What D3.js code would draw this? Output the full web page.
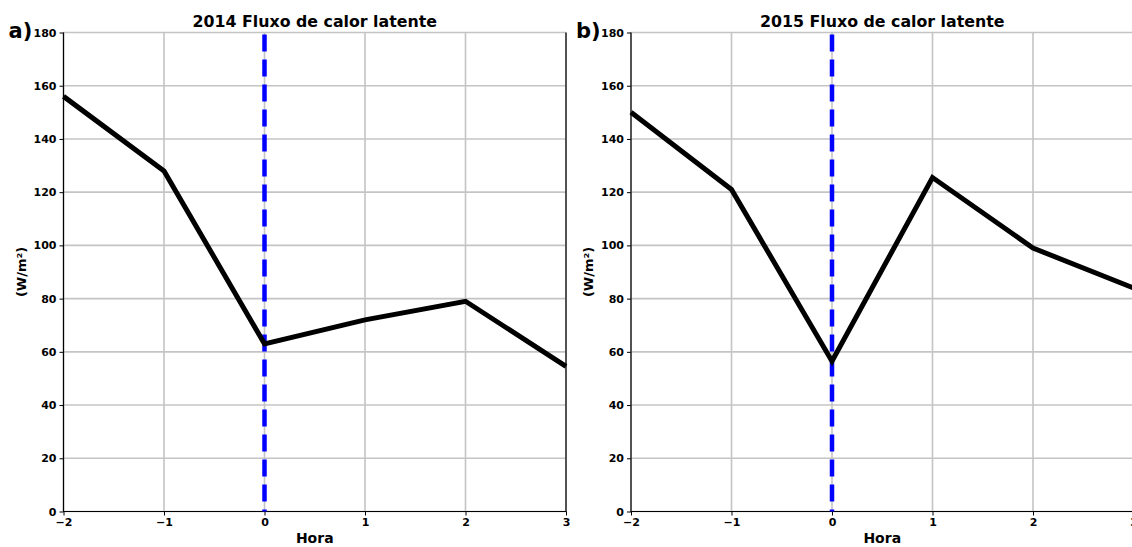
<!DOCTYPE html>
<html>
<head>
<meta charset="utf-8">
<script src="https://cdn.jsdelivr.net/npm/d3@7"></script>
<style>
  body { margin: 0; background: #fff; }
  text { font-family: "DejaVu Sans", sans-serif; font-weight: bold; }
</style>
</head>
<body>
<div id="chart"></div>
<script>
// Data
const hours = [-2, -1, 0, 1, 2, 3];
const flux2014 = [156, 128, 63, 72, 79, 54.5];
const flux2015 = [150, 121, 56.5, 125.5, 99, 84];
const yTicks = [0, 20, 40, 60, 80, 100, 120, 140, 160, 180];
const panels = [
  { tag: "a)", title: "2014 Fluxo de calor latente", values: flux2014, left: 63.5 },
  { tag: "b)", title: "2015 Fluxo de calor latente", values: flux2015, left: 631 }
];

const width = 1132, height = 547;
const plotW = 502.5, plotTop = 32.5, plotBottom = 511.5;

const svg = d3.select("#chart")
  .append("svg")
  .attr("width", width)
  .attr("height", height);

panels.forEach(p => {
  const x = d3.scaleLinear().domain([-2, 3]).range([p.left, p.left + plotW]);
  const y = d3.scaleLinear().domain([0, 180]).range([plotBottom, plotTop]);
  const g = svg.append("g");

  // grid
  g.selectAll(".hgrid")
    .data(yTicks)
    .enter()
    .append("line")
    .attr("x1", x(-2)).attr("x2", x(3))
    .attr("y1", d => y(d)).attr("y2", d => y(d))
    .attr("stroke", "#c4c4c4")
    .attr("stroke-width", 1.6);
  g.selectAll(".vgrid")
    .data(hours)
    .enter()
    .append("line")
    .attr("x1", d => x(d)).attr("x2", d => x(d))
    .attr("y1", plotTop).attr("y2", plotBottom)
    .attr("stroke", "#c4c4c4")
    .attr("stroke-width", 1.6);

  // frame (left, bottom, right)
  g.append("path")
    .attr("d", `M${x(-2)},${plotTop}V${plotBottom}H${x(3)}V${plotTop}`)
    .attr("fill", "none")
    .attr("stroke", "#000")
    .attr("stroke-width", 1.2);

  // axes
  const yAxis = g.append("g")
    .attr("transform", `translate(${x(-2)},0)`)
    .call(d3.axisLeft(y).tickValues(yTicks).tickSize(4).tickPadding(3));
  const xAxis = g.append("g")
    .attr("transform", `translate(0,${plotBottom})`)
    .call(d3.axisBottom(x).tickValues(hours).tickSize(4).tickPadding(3)
      .tickFormat(d => d < 0 ? "\u2212" + Math.abs(d) : d));
  [yAxis, xAxis].forEach(a => {
    a.select(".domain").remove();
    a.selectAll("line").attr("stroke", "#000").attr("stroke-width", 1);
    a.selectAll("text")
      .attr("fill", "#000")
      .style("font-size", "11px")
      .style("font-family", "DejaVu Sans")
      .style("font-weight", "bold");
  });

  // event line at hour 0
  g.append("line")
    .attr("x1", x(0)).attr("x2", x(0))
    .attr("y1", plotTop + 2).attr("y2", plotBottom)
    .attr("stroke", "#0000ff")
    .attr("stroke-width", 4.5)
    .attr("stroke-dasharray", "17,8");

  // series
  const line = d3.line()
    .x((d, i) => x(hours[i]))
    .y(d => y(d));
  g.append("path")
    .datum(p.values)
    .attr("d", line)
    .attr("fill", "none")
    .attr("stroke", "#000")
    .attr("stroke-width", 5)
    .attr("stroke-linejoin", "miter");

  // labels
  g.append("text")
    .attr("x", x(0.5)).attr("y", 26.5)
    .attr("text-anchor", "middle")
    .style("font-size", "15.8px")
    .text(p.title);
  g.append("text")
    .attr("x", x(0.5)).attr("y", 543)
    .attr("text-anchor", "middle")
    .style("font-size", "14px")
    .text("Hora");
  g.append("text")
    .attr("transform", `translate(${p.left - 38},${(plotTop + plotBottom) / 2}) rotate(-90)`)
    .attr("text-anchor", "middle")
    .style("font-size", "13px")
    .text("(W/m²)");
  g.append("text")
    .attr("x", p.left - 55).attr("y", 38)
    .style("font-size", "21px")
    .text(p.tag);
});
</script>
</body>
</html>
